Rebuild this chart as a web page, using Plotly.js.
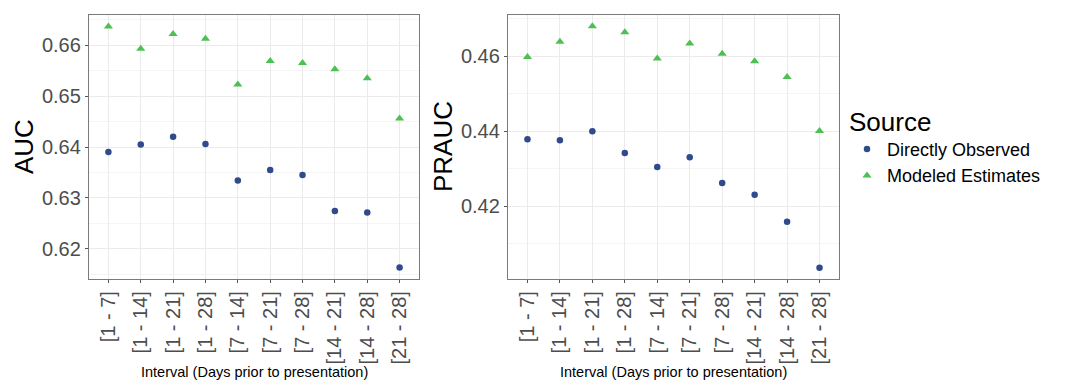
<!DOCTYPE html>
<html>
<head>
<meta charset="utf-8">
<script src="https://cdn.plot.ly/plotly-3.0.1.min.js"></script>
<style>
  html, body { margin: 0; padding: 0; background: #ffffff; }
  #chart { width: 1073px; height: 380px; }
</style>
</head>
<body>
<div id="chart"></div>
<script>
// ---- Data ----
const categories = ["[1 - 7]", "[1 - 14]", "[1 - 21]", "[1 - 28]", "[7 - 14]",
                    "[7 - 21]", "[7 - 28]", "[14 - 21]", "[14 - 28]", "[21 - 28]"];

const aucObserved  = [0.6390, 0.6405, 0.6420, 0.6406, 0.6334, 0.6355, 0.6345, 0.6274, 0.6271, 0.6163];
const aucModeled   = [0.6637, 0.6593, 0.6622, 0.6613, 0.6523, 0.6569, 0.6565, 0.6553, 0.6535, 0.6456];

const praucObserved = [0.4379, 0.4376, 0.4400, 0.4342, 0.4305, 0.4331, 0.4262, 0.4231, 0.4159, 0.4036];
const praucModeled  = [0.4598, 0.4639, 0.4680, 0.4664, 0.4594, 0.4634, 0.4607, 0.4587, 0.4545, 0.4401];

const seriesNames = ["Directly Observed", "Modeled Estimates"];
const yTitles = ["AUC", "PRAUC"];
const xTitle = "Interval (Days prior to presentation)";
const legendTitle = "Source";

// ---- Styles ----
const FONT = "Arial, 'Liberation Sans', Helvetica, sans-serif";
const blue = "#2f4b8c";
const green = "#4cc052";
const W = 1073, H = 380;
const px = v => v / W;
const py = v => 1 - v / H;

function pts(x, y, name, color, symbol, size, xa, ya, showleg) {
  return {
    type: "scatter", mode: "markers", x: x, y: y, name: name,
    xaxis: xa, yaxis: ya, showlegend: showleg, legendgroup: name,
    marker: { color: color, symbol: symbol, size: size, line: { width: 0 } },
    hoverinfo: "x+y+name"
  };
}

const data = [
  pts(categories, aucObserved, seriesNames[0], blue, "circle", 6.5, "x", "y", true),
  pts(categories, aucModeled, seriesNames[1], green, "triangle-up", 8, "x", "y", true),
  pts(categories, praucObserved, seriesNames[0], blue, "circle", 6.5, "x2", "y2", false),
  pts(categories, praucModeled, seriesNames[1], green, "triangle-up", 8, "x2", "y2", false)
];

const xCommon = {
  type: "category", range: [-0.6, 9.6], tickangle: -90,
  showgrid: true, gridcolor: "#ebebeb", gridwidth: 1,
  showline: true, linecolor: "#7a7a7a", linewidth: 1.3, mirror: true,
  ticks: "outside", ticklen: 3, tickcolor: "#555", tickwidth: 1,
  tickfont: { family: FONT, size: 20, color: "#4d4d4d" },
  zeroline: false, fixedrange: true, automargin: false
};
const yCommon = {
  showgrid: true, gridcolor: "#ebebeb", gridwidth: 1,
  showline: true, linecolor: "#7a7a7a", linewidth: 1.3, mirror: true,
  ticks: "outside", ticklen: 3, tickcolor: "#555", tickwidth: 1,
  tickfont: { family: FONT, size: 20, color: "#4d4d4d" },
  tickformat: ".2f", zeroline: false, fixedrange: true, automargin: false
};

const yTop = py(15), yBot = py(279);

const layout = {
  width: W, height: H,
  margin: { l: 0, r: 0, t: 0, b: 0, pad: 0 },
  paper_bgcolor: "#ffffff", plot_bgcolor: "#ffffff",
  font: { family: FONT, color: "#000" },
  xaxis: Object.assign({}, xCommon, { domain: [px(89), px(419)], anchor: "y" }),
  yaxis: Object.assign({}, yCommon, {
    domain: [yBot, yTop], anchor: "x",
    range: [0.61404, 0.66596], tick0: 0.62, dtick: 0.01,
    minor: { showgrid: true, gridcolor: "#f5f5f5", gridwidth: 1, tick0: 0.615, dtick: 0.01 }
  }),
  xaxis2: Object.assign({}, xCommon, { domain: [px(508), px(839)], anchor: "y2" }),
  yaxis2: Object.assign({}, yCommon, {
    domain: [yBot, yTop], anchor: "x2",
    range: [0.40062, 0.47102], tick0: 0.40, dtick: 0.02,
    minor: { showgrid: true, gridcolor: "#f5f5f5", gridwidth: 1, tick0: 0.41, dtick: 0.02 }
  }),
  showlegend: true,
  legend: {
    x: px(847), y: py(97), xanchor: "left", yanchor: "top",
    bgcolor: "rgba(0,0,0,0)", borderwidth: 0,
    font: { family: FONT, size: 18, color: "#000" },
    title: { text: legendTitle, font: { family: FONT, size: 26, color: "#000" } },
    tracegroupgap: 0, itemsizing: "trace"
  },
  annotations: [
    { text: yTitles[0], xref: "paper", yref: "paper", x: px(24), y: py(147),
      xanchor: "center", yanchor: "middle", textangle: -90, showarrow: false,
      font: { family: FONT, size: 26, color: "#000" } },
    { text: yTitles[1], xref: "paper", yref: "paper", x: px(443), y: py(147),
      xanchor: "center", yanchor: "middle", textangle: -90, showarrow: false,
      font: { family: FONT, size: 26, color: "#000" } },
    { text: xTitle, xref: "paper", yref: "paper", x: px(254), y: py(372),
      xanchor: "center", yanchor: "middle", showarrow: false,
      font: { family: FONT, size: 14.5, color: "#000" } },
    { text: xTitle, xref: "paper", yref: "paper", x: px(673), y: py(372),
      xanchor: "center", yanchor: "middle", showarrow: false,
      font: { family: FONT, size: 14.5, color: "#000" } }
  ]
};

Plotly.newPlot("chart", data, layout, { displayModeBar: false, staticPlot: false, responsive: false });
</script>
</body>
</html>
